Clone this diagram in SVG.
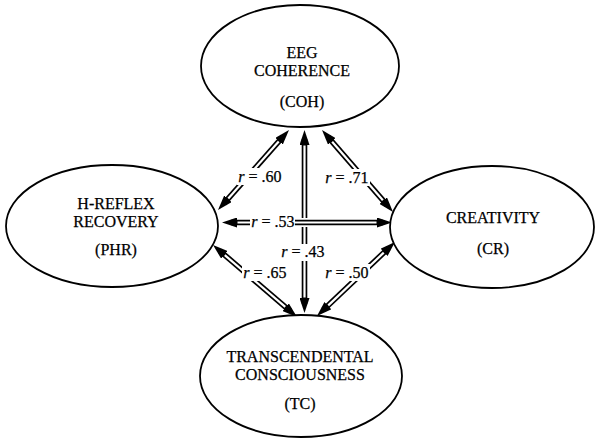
<svg xmlns="http://www.w3.org/2000/svg" width="595" height="438" viewBox="0 0 595 438">
<style>
.node ellipse{fill:#fff;stroke:#000;stroke-width:1.8}
text{font-family:"Liberation Serif","Times New Roman",serif;font-size:16px;fill:#000;stroke:#000;stroke-width:0.25;text-anchor:middle}
.outer{stroke:#000;stroke-width:5.6;fill:none;marker-start:url(#ah);marker-end:url(#ah)}
.inner{stroke:#fff;stroke-width:2.2;fill:none}
.gap{stroke:#fff;stroke-width:9;fill:none}
.lbg{fill:#fff}
</style>
<defs>
<marker id="ah" markerUnits="userSpaceOnUse" markerWidth="16" markerHeight="10" viewBox="0 0 16 10" refX="6" refY="5" orient="auto-start-reverse">
<path d="M0,0 L15,5 L0,10 z" fill="#000"/>
</marker>
</defs>
<rect width="595" height="438" fill="#fff"/>
<g id="connectors">
<line class="outer" x1="283.02" y1="136.73" x2="223.98" y2="203.27"/>
<line class="inner" x1="278.71" y1="141.59" x2="228.29" y2="198.41"/>
<line class="outer" x1="327.89" y1="136.80" x2="387.11" y2="205.20"/>
<line class="inner" x1="332.14" y1="141.72" x2="382.86" y2="200.28"/>
<line class="outer" x1="219.83" y1="250.86" x2="290.17" y2="311.14"/>
<line class="inner" x1="224.76" y1="255.09" x2="285.24" y2="306.91"/>
<line class="outer" x1="388.47" y1="248.20" x2="323.53" y2="309.80"/>
<line class="inner" x1="383.75" y1="252.67" x2="328.25" y2="305.33"/>
<line class="outer" x1="304.5" y1="139" x2="304.5" y2="304"/>
<line class="inner" x1="304.5" y1="145.5" x2="304.5" y2="297.5"/>
<line class="gap" x1="296" y1="222.5" x2="313" y2="222.5"/>
<line class="outer" x1="231" y1="222.5" x2="383" y2="222.5"/>
<line class="inner" x1="237.5" y1="222.5" x2="376.5" y2="222.5"/>
<rect class="lbg" x="237" y="168" width="46" height="17"/>
<rect class="lbg" x="324" y="169" width="46" height="17"/>
<rect class="lbg" x="250" y="213" width="45" height="17"/>
<rect class="lbg" x="280" y="244" width="46" height="17"/>
<rect class="lbg" x="242" y="264" width="46" height="17"/>
<rect class="lbg" x="324" y="264" width="46" height="17"/>
<text x="260" y="182"><tspan font-style="italic">r</tspan> = .60</text>
<text x="347" y="183"><tspan font-style="italic">r</tspan> = .71</text>
<text x="273" y="227"><tspan font-style="italic">r</tspan> = .53</text>
<text x="303" y="257"><tspan font-style="italic">r</tspan> = .43</text>
<text x="265" y="278"><tspan font-style="italic">r</tspan> = .65</text>
<text x="347" y="278"><tspan font-style="italic">r</tspan> = .50</text>
</g>
<g id="coh" class="node">
<ellipse cx="300" cy="66" rx="99" ry="61"/>
<text x="302" y="58">EEG</text>
<text x="302" y="76">COHERENCE</text>
<text x="302" y="107">(COH)</text>
</g>
<g id="phr" class="node">
<ellipse cx="112" cy="226" rx="106" ry="61"/>
<text x="116" y="209">H-REFLEX</text>
<text x="116" y="227">RECOVERY</text>
<text x="116" y="255">(PHR)</text>
</g>
<g id="cr" class="node">
<ellipse cx="492" cy="227" rx="102" ry="61"/>
<text x="493" y="223">CREATIVITY</text>
<text x="493" y="254">(CR)</text>
</g>
<g id="tc" class="node">
<ellipse cx="301" cy="376" rx="101" ry="61"/>
<text x="300" y="362">TRANSCENDENTAL</text>
<text x="300" y="380">CONSCIOUSNESS</text>
<text x="300" y="409">(TC)</text>
</g>
</svg>
